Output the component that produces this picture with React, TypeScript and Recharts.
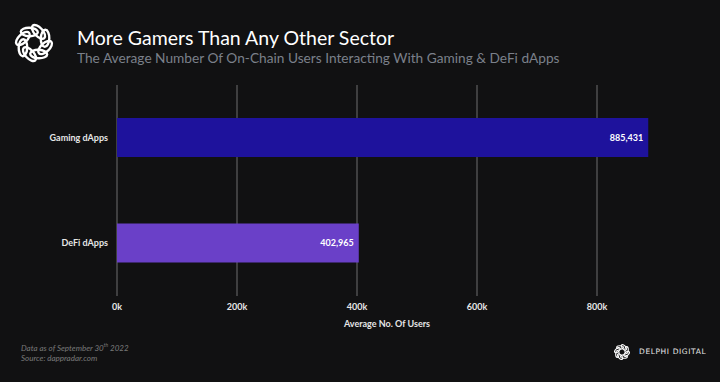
import { BarChart, Bar, XAxis, YAxis, CartesianGrid, Cell, LabelList } from 'recharts';

const categories = ['Gaming dApps', 'DeFi dApps'];
const avgUsers = [885431, 402965];
const xTicks = [0, 200000, 400000, 600000, 800000];
const xMax = 900000;

const BAR_COLORS = ['#1e129c', '#6a40c8'];
const FONT = 'Lato, "Open Sans", sans-serif';

const data = categories.map((name, i) => ({ name, value: avgUsers[i] }));

function Logo({ cx, cy, r, loop, stroke }: { cx: number; cy: number; r: number; loop: number; stroke: number }) {
  const items = [];
  for (let i = 0; i < 8; i++) {
    const a = (i * 360) / 8;
    items.push(
      <ellipse
        key={i}
        cx={0}
        cy={-r}
        rx={loop}
        ry={loop * 0.5}
        transform={`rotate(${a + 22}) rotate(25 0 ${-r})`}
        fill="none"
        stroke="#fff"
        strokeWidth={stroke}
      />,
    );
  }
  return <g transform={`translate(${cx},${cy})`}>{items}</g>;
}

export default function App() {
  return (
    <div
      style={{
        position: 'absolute',
        left: 0,
        top: 0,
        width: 720,
        height: 382,
        background: '#111112',
        fontFamily: FONT,
        overflow: 'hidden',
      }}
    >
      <svg width={720} height={382} style={{ position: 'absolute', left: 0, top: 0 }}>
        <Logo cx={34} cy={43} r={12} loop={8.5} stroke={2.4} />
        <Logo cx={622} cy={352} r={5} loop={3.4} stroke={1.1} />
      </svg>
      <div style={{ position: 'absolute', left: 77, top: 26, fontSize: 19.5, color: '#fff' }}>
        More Gamers Than Any Other Sector
      </div>
      <div style={{ position: 'absolute', left: 77, top: 49, fontSize: 13.7, color: '#7b808a' }}>
        The Average Number Of On-Chain Users Interacting With Gaming &amp; DeFi dApps
      </div>

      <div style={{ position: 'absolute', left: 0, top: 0 }}>
        <BarChart
          width={720}
          height={382}
          data={data}
          layout="vertical"
          margin={{ top: 85, right: 63, bottom: 56, left: 0 }}
        >
          <CartesianGrid
            horizontal={false}
            stroke="#6e6e6e"
            verticalCoordinatesGenerator={({ offset }: any) =>
              xTicks.map((t) => offset.left + (t / xMax) * offset.width)
            }
          />
          <XAxis
            type="number"
            domain={[0, xMax]}
            ticks={xTicks}
            tickFormatter={(v: number) => `${v / 1000}k`}
            axisLine={false}
            tickLine={false}
            height={30}
            tick={{ fill: '#e6e6e6', fontSize: 9, fontWeight: 700, fontFamily: FONT }}
          />
          <YAxis
            type="category"
            dataKey="name"
            width={117}
            axisLine={false}
            tickLine={false}
            tickMargin={3}
            tick={{ fill: '#e6e6e6', fontSize: 9, fontWeight: 700, fontFamily: FONT }}
          />
          <Bar dataKey="value" barSize={39} isAnimationActive={false}>
            {data.map((d, i) => (
              <Cell key={d.name} fill={BAR_COLORS[i]} />
            ))}
            <LabelList
              dataKey="value"
              position="insideRight"
              formatter={(v: number) => v.toLocaleString('en-US')}
              fill="#ffffff"
              fontSize={9}
              fontWeight={700}
              fontFamily={FONT}
            />
          </Bar>
        </BarChart>
      </div>

      <div
        style={{
          position: 'absolute',
          left: 117,
          width: 540,
          top: 318,
          textAlign: 'center',
          fontSize: 9,
          fontWeight: 700,
          color: '#e6e6e6',
        }}
      >
        Average No. Of Users
      </div>

      <div style={{ position: 'absolute', left: 21, top: 340, fontSize: 8, fontStyle: 'italic', color: '#7a7a7a', lineHeight: '10px' }}>
        Data as of September 30<sup style={{ fontSize: 5 }}>th</sup> 2022
        <br />
        Source: dappradar.com
      </div>
      <div
        style={{
          position: 'absolute',
          left: 639,
          top: 347,
          fontSize: 7.5,
          letterSpacing: 0.6,
          color: '#e8e8e8',
          fontFamily: '"DejaVu Sans", sans-serif',
        }}
      >
        DELPHI DIGITAL
      </div>
    </div>
  );
}
